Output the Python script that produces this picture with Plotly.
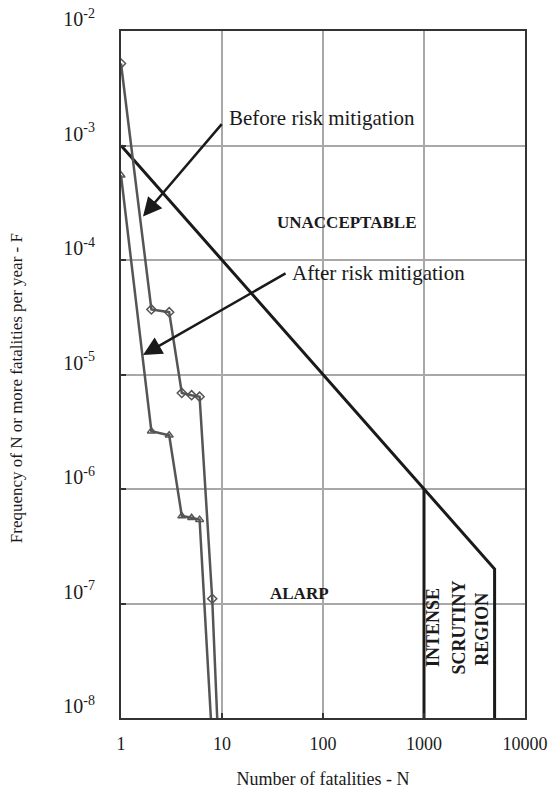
import plotly.graph_objects as go

# Data
before_n = [1, 2, 3, 4, 5, 6, 8, 10]
before_f = [5.2e-3, 3.7e-5, 3.5e-5, 6.9e-6, 6.6e-6, 6.4e-6, 1.1e-7, 1e-9]
after_n = [1, 2, 3, 4, 5, 6, 9]
after_f = [5.5e-4, 3.2e-6, 2.95e-6, 5.8e-7, 5.6e-7, 5.4e-7, 1e-9]

criterion_n = [1, 1000, 5000, 5000]
criterion_f = [1e-3, 1e-6, 2e-7, 1e-8]
scrutiny_n = [1000, 1000]
scrutiny_f = [1e-6, 1e-8]

x_ticks = [1, 10, 100, 1000, 10000]
x_ticktext = ["1", "10", "100", "1000", "10000"]
y_ticks = [1e-8, 1e-7, 1e-6, 1e-5, 1e-4, 1e-3, 1e-2]
y_ticktext = ["10<sup>-8</sup>", "10<sup>-7</sup>", "10<sup>-6</sup>", "10<sup>-5</sup>",
              "10<sup>-4</sup>", "10<sup>-3</sup>", "10<sup>-2</sup>"]

FONT = "Liberation Serif"
CURVE = "#555555"
INK = "#1a1a1a"

fig = go.Figure()
fig.add_trace(go.Scatter(x=criterion_n, y=criterion_f, mode="lines",
                         line=dict(color=INK, width=3), showlegend=False))
fig.add_trace(go.Scatter(x=scrutiny_n, y=scrutiny_f, mode="lines",
                         line=dict(color=INK, width=3), showlegend=False))
fig.add_trace(go.Scatter(x=before_n, y=before_f, mode="lines+markers",
                         line=dict(color=CURVE, width=2.5),
                         marker=dict(symbol="diamond-open", size=7, color=CURVE, line=dict(width=1.5)),
                         showlegend=False))
fig.add_trace(go.Scatter(x=after_n, y=after_f, mode="lines+markers",
                         line=dict(color=CURVE, width=2.5),
                         marker=dict(symbol="triangle-up-open", size=7, color=CURVE, line=dict(width=1.5)),
                         showlegend=False))

# Arrows
fig.add_annotation(x=0.218, y=-3.62, ax=1.01, ay=-2.80, xref="x", yref="y", axref="x", ayref="y",
                   text="", showarrow=True, arrowhead=2, arrowsize=1.5, arrowwidth=2.5, arrowcolor=INK)
fig.add_annotation(x=0.218, y=-4.83, ax=1.644, ay=-4.11, xref="x", yref="y", axref="x", ayref="y",
                   text="", showarrow=True, arrowhead=2, arrowsize=1.5, arrowwidth=2.5, arrowcolor=INK)

txt = dict(family=FONT, size=21, color=INK)
fig.add_annotation(x=1.05, y=-2.76, text="Before risk mitigation", showarrow=False,
                   xanchor="left", yanchor="middle", font=txt)
fig.add_annotation(x=1.673, y=-4.11, text="After risk mitigation", showarrow=False,
                   xanchor="left", yanchor="middle", font=txt)
bold = dict(family=FONT, size=17, color=INK, weight="bold")
fig.add_annotation(x=2.228, y=-3.67, text="UNACCEPTABLE", showarrow=False, font=bold)
fig.add_annotation(x=1.772, y=-6.91, text="ALARP", showarrow=False, font=bold)
bold2 = dict(family=FONT, size=18, color=INK, weight="bold")
for xv, yv, t in [(3.089, -7.205, "INTENSE"), (3.337, -7.21, "SCRUTINY"), (3.574, -7.22, "REGION")]:
    fig.add_annotation(x=xv, y=yv, text=t, showarrow=False, textangle=-90, font=bold2)

# Y-axis title, placed as in the reference
fig.add_annotation(xref="paper", yref="paper", x=-0.26, y=0.48,
                   text="Frequency of N or more fatalities per year - F", showarrow=False,
                   textangle=-90, xanchor="center", yanchor="middle",
                   font=dict(family=FONT, size=17, color=INK))

axis_common = dict(showline=True, linecolor="#333333", linewidth=2, mirror=True,
                   showgrid=True, gridcolor="#a8a8a8", gridwidth=1.5,
                   ticks="inside", ticklen=5, tickwidth=2, tickcolor="#333333",
                   zeroline=False, automargin=False)

fig.update_xaxes(type="log", range=[0, 4], tickvals=x_ticks, ticktext=x_ticktext,
                 ticklabelstandoff=8, tickfont=dict(family=FONT, size=18, color=INK),
                 title=dict(text="Number of fatalities - N", font=dict(family=FONT, size=18, color=INK),
                            standoff=20),
                 **axis_common)
fig.update_yaxes(type="log", range=[-8, -2], tickvals=y_ticks, ticktext=y_ticktext,
                 ticklabelstandoff=20, ticklabelshift=-12,
                 tickfont=dict(family=FONT, size=20, color=INK),
                 **axis_common)

fig.update_layout(width=550, height=791, margin=dict(l=121, r=25, t=31, b=73),
                  plot_bgcolor="white", paper_bgcolor="white",
                  font=dict(family=FONT, color=INK))

fig.write_html("out.html")
